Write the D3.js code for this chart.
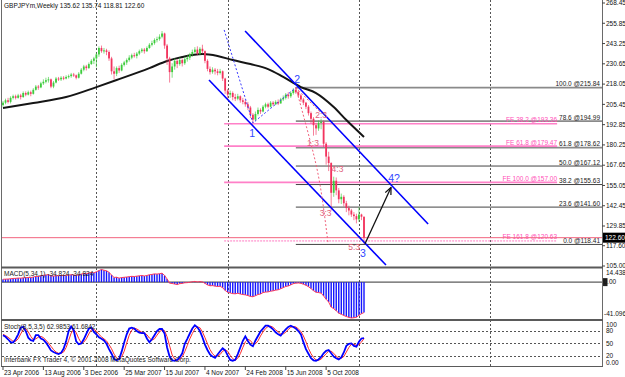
<!DOCTYPE html>
<html>
<head>
<meta charset="utf-8">
<script src="https://cdn.jsdelivr.net/npm/d3@7"></script>
<style>
  body { margin: 0; background: #fff; }
  svg text { font-family: "Liberation Sans", Arial, sans-serif; }
</style>
</head>
<body>
<svg id="chart" width="625" height="377"></svg>
<script>
// -------- weekly GBPJPY bars, week 0 = 23 Apr 2006, last = 18 Jan 2009 --------
var firstOpen = 205.0;
var closes = [206.5,208.0,207.0,209.5,210.5,209.5,211.0,210.0,212.5,211.5,
  213.0,212.0,214.5,216.5,216.0,218.5,219.5,220.5,221.0,216.5,
  219.0,221.5,221.0,222.0,221.5,222.5,223.0,224.0,223.5,222.0,
  224.5,227.0,229.0,228.0,230.5,232.5,234.0,236.5,240.5,238.5,
  239.0,238.0,234.0,226.0,224.5,228.0,226.5,230.0,231.5,233.0,
  234.5,236.0,235.5,237.0,238.5,239.5,238.5,240.5,242.5,243.5,
  245.5,246.0,247.5,249.5,242.0,234.0,225.5,229.0,232.5,230.5,
  233.0,231.0,233.5,234.5,236.5,238.0,239.5,237.0,240.0,238.5,
  232.5,227.5,225.5,227.0,226.0,225.0,226.0,221.5,214.0,211.5,
  212.5,210.0,209.0,210.5,208.0,207.0,205.5,203.5,199.0,196.0,
  199.5,202.0,201.0,204.0,205.5,204.0,206.5,205.5,207.0,206.0,
  208.5,209.5,211.5,210.5,212.5,214.5,213.0,211.0,208.5,206.5,
  204.0,200.0,196.5,192.5,190.5,194.0,194.5,181.0,173.0,169.0,
  150.5,158.0,152.0,146.5,148.0,144.0,141.0,139.5,137.0,136.0,
  134.0,137.0,135.62,122.60];
var highs = [207.5,209.0,209.5,210.5,211.5,211.5,212.0,212.0,213.5,213.5,
  214.0,214.0,215.5,217.5,217.5,219.5,221.0,222.0,222.5,221.5,
  220.0,222.5,222.5,223.0,223.0,223.5,224.0,225.0,225.0,224.0,
  225.5,228.0,230.0,230.0,231.5,233.5,235.0,237.5,241.5,242.0,
  240.5,240.0,239.0,235.0,229.0,229.0,229.5,231.0,232.5,234.0,
  236.0,237.0,237.5,238.0,239.5,240.5,240.5,241.5,243.5,245.0,
  246.5,247.5,249.0,251.0,250.0,243.0,235.0,231.0,234.0,233.5,
  234.5,234.0,235.0,236.0,237.5,239.5,241.0,241.5,241.0,242.5,
  239.0,233.5,229.0,228.5,228.0,227.5,227.5,226.5,222.0,215.0,
  214.0,213.5,212.0,212.0,211.0,209.5,208.5,207.0,204.5,200.0,
  201.0,203.5,203.0,205.0,206.5,206.5,207.5,207.5,208.0,208.5,
  209.5,211.0,212.5,213.0,213.5,215.5,215.84,214.5,212.0,209.5,
  207.0,205.0,201.0,197.5,194.0,195.5,196.5,195.5,182.0,176.0,
  169.5,160.5,160.0,153.5,150.0,149.0,145.5,142.5,140.5,138.5,
  137.5,141.6,137.5,135.74];
var lows = [204.0,205.5,206.0,206.0,208.5,208.5,209.0,208.5,209.5,210.5,
  211.0,210.5,211.5,214.0,214.5,215.5,217.5,218.5,219.0,215.5,
  215.5,218.5,220.0,220.0,220.5,221.0,221.5,222.0,222.5,221.0,
  221.5,224.0,226.0,226.5,227.5,230.0,230.5,228.5,235.0,237.5,
  237.0,236.0,232.5,224.0,221.0,223.0,225.0,226.0,229.0,230.0,
  232.0,233.5,234.5,234.0,236.0,237.5,237.0,238.0,240.0,241.5,
  242.5,244.0,245.0,246.5,240.0,230.0,219.0,222.0,227.0,228.0,
  229.5,229.0,230.0,232.0,233.0,235.0,237.0,236.0,236.0,237.0,
  231.0,226.0,224.0,224.5,224.0,223.5,224.0,220.0,212.0,209.0,
  209.5,208.0,207.5,208.0,206.5,205.5,204.0,202.0,197.0,193.9,
  195.0,198.5,199.5,200.5,203.0,203.0,203.5,204.5,205.0,205.0,
  206.0,207.5,208.5,209.0,209.5,211.5,212.0,209.5,207.0,205.0,
  202.5,198.5,193.5,186.0,186.5,189.0,190.0,179.0,168.0,164.0,
  139.5,148.0,149.0,144.0,143.5,142.0,138.5,136.5,135.5,133.5,
  131.5,132.5,133.5,118.81];

// black moving average, read at sample weeks
var maWeeks = [0,12,25,37,45,58,65,71,79,85,91,98,105,111,118,124,131,136,143];
var maValues = [203.2,206.3,210.0,216.2,220.6,228.0,232.4,234.9,236.7,235.5,
  233.0,230.5,227.4,222.5,216.2,212.5,203.8,195.7,185.2];

// MACD(5,34,1) histogram
var macdValues = [3.2,3.4,3.5,3.8,4.2,4.3,4.6,4.5,4.9,5.0,
  5.3,5.2,5.8,6.5,6.6,7.2,7.8,8.2,8.4,7.0,
  6.9,7.4,7.3,7.6,7.4,7.8,8.0,8.4,8.2,7.6,
  8.2,9.2,10.0,9.6,10.4,11.0,10.6,11.8,13.2,14.4,
  13.6,12.9,11.2,8.0,5.4,5.6,4.6,5.2,5.5,5.8,
  6.2,6.6,6.4,6.8,7.2,7.6,7.0,7.6,8.4,8.8,
  9.4,9.2,9.6,10.2,7.6,3.6,-1.2,-1.6,-2.2,-2.8,
  -1.8,-1.5,-0.8,-0.6,-0.2,0.4,0.8,0.2,0.6,0.2,
  -1.4,-3.2,-4.2,-4.0,-4.6,-5.0,-4.8,-6.4,-9.6,-11.6,
  -12.4,-13.2,-13.4,-12.8,-13.6,-14.2,-14.6,-15.4,-16.4,-16.8,
  -15.6,-14.2,-13.6,-12.0,-11.4,-11.2,-10.4,-10.0,-9.2,-8.8,
  -7.6,-6.4,-5.0,-4.4,-3.2,-1.8,-1.2,-1.0,-1.4,-2.4,
  -3.6,-5.2,-7.4,-9.8,-11.6,-12.0,-12.6,-15.8,-19.6,-22.8,
  -28.6,-30.4,-32.8,-35.6,-36.8,-38.2,-39.4,-40.4,-41.1,-40.8,
  -40.2,-38.0,-36.2,-34.8];

// Stochastic main (blue) and signal (red)
var stochMain = [70,66,60,53,52,60,72,88,90,80,
  64,58,56,70,70,62,59,52,43,33,
  29,26,24,27,37,55,80,91,82,55,
  48,50,60,73,86,89,78,72,65,61,
  57,49,36,25,12,9,12,30,52,72,
  86,88,86,80,76,75,75,62,53,60,
  70,80,85,85,74,40,18,9,8,10,
  16,26,49,61,74,86,94,89,80,65,
  47,34,23,18,15,23,31,38,33,21,
  10,8,10,24,40,56,67,56,47,43,
  57,68,79,86,93,93,89,84,77,72,
  69,77,84,90,93,90,86,80,72,53,
  36,25,14,9,8,11,17,26,32,34,
  26,18,14,11,16,28,44,49,50,44,
  42,54,62,63];
var stochSignal = [72,69,65,60,55,55,61,73,83,86,
  78,67,59,61,65,67,64,58,51,43,
  35,29,26,26,29,40,57,75,84,76,
  62,51,53,61,73,83,84,80,72,66,
  61,56,47,37,24,15,11,17,31,51,
  70,82,87,85,81,77,75,71,63,58,
  61,70,78,83,81,66,44,22,12,9,
  11,17,30,45,61,74,85,90,88,78,
  64,49,35,25,19,19,23,31,34,31,
  21,13,9,14,25,40,54,60,57,49,
  49,56,68,78,86,91,92,89,83,78,
  73,73,77,84,89,91,90,85,79,68,
  54,38,25,16,10,9,12,18,25,31,
  31,26,19,14,14,18,29,40,48,48,
  45,47,53,62];

// price scale labels
var priceTicks = [268.45,255.85,243.25,230.65,218.05,205.45,192.85,180.25,167.65,155.05,142.45,129.85,117.60,105.00];
var stochLevels = [80, 50, 20];
var stochTickLabels = ["100","80","50","20","0.00"];
var stochTickValues = [100, 80, 50, 20, 0];

// Fibonacci retracement from wave 2
var fibLevels = ["100.0","78.6","61.8","50.0","38.2","23.6","0.0"];
var fibPrices = [215.84,194.99,178.62,167.12,155.63,141.60,118.41];
var fibStartWeek = 116;

// Fibonacci expansion
var feLevels = ["38.2","61.8","100.0","161.8"];
var fePrices = [193.36,179.47,157.00,120.63];
var feWeeks = [87.6, 219.5];

// wave annotations, [week, price]
var channelLines = [
  [[81.6, 220.6], [151.7, 105.6]],
  [[95.9, 251.05], [168.4, 131.1]]
];
var waveDotLine = [[87.6, 251.7], [99, 193.9], [116, 215.84]];
var subWaveLines = [
  [[116, 215.84], [121.6, 183.3], [125.6, 155.3], [128.8, 118.7]],
  [[116, 215.84], [125.6, 200.7]]
];
var arrowPath = [[143.4, 118.8], [153.7, 153.8]];
var waveLabels = [["1", 98.7, 185.2], ["2", 116.5, 218.7], ["3", 142.6, 110.6], ["4?", 154.9, 157.2]];
var subWaveLabels = [["2:3", 126, 197], ["1:3", 122.8, 179.6], ["4:3", 132.5, 163.4], ["3:3", 127.8, 136.1], ["5:3", 139.1, 114.9]];

var lastPrice = 122.60;
var startDate = Date.UTC(2006, 3, 23);
var WEEK = 7 * 864e5;


// -------*****--------^^^^-------*****---------------*****--------
//               Scales
// -------*****--------^^^^-------*****---------------*****--------
var x = d3.scaleLinear().domain([0, 143]).range([3, 364]);
var yMain = d3.scaleLinear().domain([105, 268.45]).range([266, 3]);
var yMacd = d3.scaleLinear().domain([-41.096, 14.438]).range([318, 269.5]);
var yStoch = d3.scaleLinear().domain([0, 100]).range([364, 322.8]);

var svg = d3.select("#chart");
var defs = svg.append("defs");
defs.append("clipPath").attr("id", "mainClip")
    .append("rect").attr("x", 2).attr("y", 0).attr("width", 600).attr("height", 266.5);
defs.append("marker")
    .attr("id", "arrowHead")
    .attr("viewBox", "0 0 10 10")
    .attr("refX", 9).attr("refY", 5)
    .attr("markerWidth", 6).attr("markerHeight", 6)
    .attr("orient", "auto")
  .append("path")
    .attr("d", "M0,1 L9,5 L0,9")
    .attr("fill", "none")
    .attr("stroke", "#111")
    .attr("stroke-width", 1.6);

svg.append("rect").attr("width", 625).attr("height", 377).attr("fill", "#fff");

function weekOf(d) { return Math.round((d - startDate) / WEEK); }


// -------*****--------^^^^-------*****---------------*****--------
//               Grid and panel frames
// -------*****--------^^^^-------*****---------------*****--------
var gridWeeks = [2007, 2008, 2009, 2010].map(function(yr) {
  return weekOf(d3.utcSunday.ceil(new Date(Date.UTC(yr, 0, 1))).getTime());
});
svg.selectAll("line.vgrid").data(gridWeeks).enter().append("line")
    .attr("class", "vgrid")
    .attr("x1", function(d) { return Math.round(x(d)) + 0.5; })
    .attr("x2", function(d) { return Math.round(x(d)) + 0.5; })
    .attr("y1", 0).attr("y2", 366)
    .style("stroke", "#555")
    .style("stroke-dasharray", "2,2");

svg.selectAll("line.sgrid").data(stochLevels).enter().append("line")
    .attr("class", "sgrid")
    .attr("x1", 2).attr("x2", 602)
    .attr("y1", function(d) { return Math.round(yStoch(d)) + 0.5; })
    .attr("y2", function(d) { return Math.round(yStoch(d)) + 0.5; })
    .style("stroke", "#555")
    .style("stroke-dasharray", "2,2");

// panel borders
[[1.5, 0, 1.5, 367], [602.5, 0, 602.5, 367]].forEach(function(l) {
  svg.append("line").attr("x1", l[0]).attr("y1", l[1]).attr("x2", l[2]).attr("y2", l[3])
      .style("stroke", "#6a6a6a").style("stroke-width", 1);
});
[267.5, 320].forEach(function(yy) {
  svg.append("line").attr("x1", 1).attr("x2", 603).attr("y1", yy).attr("y2", yy)
      .style("stroke", "#5a5a5a").style("stroke-width", 2);
});
svg.append("line").attr("x1", 1).attr("x2", 603).attr("y1", 366.5).attr("y2", 366.5)
    .style("stroke", "#5a5a5a").style("stroke-width", 1);


// -------*****--------^^^^-------*****---------------*****--------
//               Main panel
// -------*****--------^^^^-------*****---------------*****--------
var main_g = svg.append("g").attr("clip-path", "url(#mainClip)");

// fibo retracement lines
main_g.selectAll("line.fib").data(fibPrices).enter().append("line")
    .attr("class", "fib")
    .attr("x1", x(fibStartWeek)).attr("x2", 602)
    .attr("y1", function(d) { return yMain(d); })
    .attr("y2", function(d) { return yMain(d); })
    .style("stroke", function(d, i) { return i < 3 ? "#8a8a8a" : "#444"; })
    .style("stroke-width", function(d, i) { return i < 3 ? 1.8 : 1; });

main_g.selectAll("text.fib").data(fibPrices).enter().append("text")
    .attr("class", "fib")
    .attr("x", 600)
    .attr("y", function(d) { return yMain(d) - 1.5; })
    .attr("text-anchor", "end")
    .style("font-size", "6.5px")
    .style("fill", "#222")
    .text(function(d, i) { return fibLevels[i] + " @" + d.toFixed(2); });

// fibo expansion lines
main_g.selectAll("line.fe").data(fePrices).enter().append("line")
    .attr("class", "fe")
    .attr("x1", x(feWeeks[0])).attr("x2", x(feWeeks[1]))
    .attr("y1", function(d) { return yMain(d); })
    .attr("y2", function(d) { return yMain(d); })
    .style("stroke", function(d, i) { return i == 3 ? "#ffb3dc" : "#ff80c8"; })
    .style("stroke-width", 1.6)
    .style("stroke-dasharray", function(d, i) { return i == 3 ? "2,1" : null; });

main_g.selectAll("text.fe").data(fePrices).enter().append("text")
    .attr("class", "fe")
    .attr("x", x(feWeeks[1]))
    .attr("y", function(d) { return yMain(d) - 1.5; })
    .attr("text-anchor", "end")
    .style("font-size", "6.5px")
    .style("fill", "#ff4fb8")
    .text(function(d, i) { return "FE " + feLevels[i] + " @" + d.toFixed(2); });

// price line
main_g.append("line")
    .attr("x1", 2).attr("x2", 602)
    .attr("y1", yMain(lastPrice)).attr("y2", yMain(lastPrice))
    .style("stroke", "#f2647e").style("stroke-width", 1);

// moving average
var lineMain = d3.line()
    .x(function(d) { return x(d[0]); })
    .y(function(d) { return yMain(d[1]); });

main_g.append("path")
    .datum(maWeeks.map(function(w, i) { return [w, maValues[i]]; }))
    .attr("d", lineMain.curve(d3.curveMonotoneX))
    .style("fill", "none").style("stroke", "#151515").style("stroke-width", 2);
lineMain.curve(d3.curveLinear);

// candles
var candles = closes.map(function(c, i) {
  return { i: i, open: i === 0 ? firstOpen : closes[i - 1], high: highs[i], low: lows[i], close: c };
});
var bullColor = "#3ccc3c", bearColor = "#f2345e";

main_g.selectAll("line.wick").data(candles).enter().append("line")
    .attr("class", "wick")
    .attr("x1", function(d) { return x(d.i); })
    .attr("x2", function(d) { return x(d.i); })
    .attr("y1", function(d) { return yMain(d.high); })
    .attr("y2", function(d) { return yMain(d.low); })
    .style("stroke", function(d) { return d.close >= d.open ? bullColor : bearColor; })
    .style("stroke-width", 0.9)
    .style("opacity", 0.7);

main_g.selectAll("rect.body").data(candles).enter().append("rect")
    .attr("class", "body")
    .attr("x", function(d) { return x(d.i) - 0.9; })
    .attr("width", 1.8)
    .attr("y", function(d) { return yMain(Math.max(d.open, d.close)); })
    .attr("height", function(d) { return Math.max(1, Math.abs(yMain(d.open) - yMain(d.close))); })
    .style("fill", function(d) { return d.close >= d.open ? bullColor : bearColor; });

// wave lines
main_g.selectAll("path.channel").data(channelLines).enter().append("path")
    .attr("class", "channel")
    .attr("d", lineMain)
    .style("fill", "none").style("stroke", "#0000ff").style("stroke-width", 1.6);

main_g.append("path")
    .datum(waveDotLine)
    .attr("d", lineMain)
    .style("fill", "none").style("stroke", "#3a3aff").style("stroke-width", 1)
    .style("stroke-dasharray", "2,2");

main_g.selectAll("path.sub").data(subWaveLines).enter().append("path")
    .attr("class", "sub")
    .attr("d", d3.line().x(function(d) { return x(d[0]); }).y(function(d) { return yMain(d[1]); }).curve(d3.curveNatural))
    .style("fill", "none").style("stroke", "#f0607a").style("stroke-width", 1)
    .style("stroke-dasharray", "2,2");

main_g.append("path")
    .datum(arrowPath)
    .attr("d", lineMain)
    .attr("marker-end", "url(#arrowHead)")
    .style("fill", "none").style("stroke", "#111").style("stroke-width", 1.3);

main_g.selectAll("text.wave").data(waveLabels).enter().append("text")
    .attr("class", "wave")
    .attr("x", function(d) { return x(d[1]); })
    .attr("y", function(d) { return yMain(d[2]); })
    .attr("text-anchor", "middle")
    .style("font-size", "10.5px")
    .style("fill", "#3048ff")
    .text(function(d) { return d[0]; });

main_g.selectAll("text.subwave").data(subWaveLabels).enter().append("text")
    .attr("class", "subwave")
    .attr("x", function(d) { return x(d[1]); })
    .attr("y", function(d) { return yMain(d[2]); })
    .attr("text-anchor", "middle")
    .style("font-size", "8.5px")
    .style("fill", "#e0607a")
    .text(function(d) { return d[0]; });

// title
svg.append("text")
    .attr("x", 4).attr("y", 8)
    .style("font-size", "6.5px").style("fill", "#111")
    .text("GBPJPYm,Weekly  135.62 135.74 118.81 122.60");

// right price axis
var priceAxis = svg.append("g");
priceAxis.selectAll("line").data(priceTicks).enter().append("line")
    .attr("x1", 602).attr("x2", 605)
    .attr("y1", function(d) { return yMain(d); })
    .attr("y2", function(d) { return yMain(d); })
    .style("stroke", "#444");
priceAxis.selectAll("text").data(priceTicks).enter().append("text")
    .attr("x", 606)
    .attr("y", function(d) { return yMain(d) + 2.3; })
    .style("font-size", "6.5px").style("fill", "#111")
    .text(function(d) { return d.toFixed(2); });

svg.append("rect")
    .attr("x", 603).attr("y", yMain(lastPrice) - 5).attr("width", 22).attr("height", 10)
    .style("fill", "#000");
svg.append("text")
    .attr("x", 605).attr("y", yMain(lastPrice) + 2.5)
    .style("font-size", "6.5px").style("fill", "#fff")
    .text(lastPrice.toFixed(2));


// -------*****--------^^^^-------*****---------------*****--------
//               MACD panel
// -------*****--------^^^^-------*****---------------*****--------
var macd_g = svg.append("g");
macd_g.append("line")
    .attr("x1", 2).attr("x2", 602)
    .attr("y1", yMacd(0)).attr("y2", yMacd(0))
    .style("stroke", "#333").style("stroke-width", 1);

macd_g.selectAll("rect").data(macdValues).enter().append("rect")
    .attr("x", function(d, i) { return x(i) - 0.7; })
    .attr("width", 1.4)
    .attr("y", function(d) { return Math.min(yMacd(0), yMacd(d)); })
    .attr("height", function(d) { return Math.abs(yMacd(d) - yMacd(0)); })
    .style("fill", "#1414ff");

macd_g.append("path")
    .datum(macdValues)
    .attr("d", d3.line().x(function(d, i) { return x(i); }).y(function(d) { return yMacd(d); }))
    .style("fill", "none").style("stroke", "#ff3a5a").style("stroke-width", 1);

macd_g.append("text")
    .attr("x", 4).attr("y", 276)
    .style("font-size", "6.5px").style("fill", "#222")
    .text("MACD(5,34,1) -34.824 -34.824");

macd_g.append("text").attr("x", 606).attr("y", 275)
    .style("font-size", "6.5px").style("fill", "#111").text("14.438");
macd_g.append("rect").attr("x", 603).attr("y", yMacd(0) - 4).attr("width", 4.5).attr("height", 8)
    .style("fill", "#222");
macd_g.append("text").attr("x", 603.5).attr("y", yMacd(0) + 2.3)
    .style("font-size", "6.5px").style("fill", "#111").text("0.00");
macd_g.append("text").attr("x", 604).attr("y", 316)
    .style("font-size", "6.5px").style("fill", "#111").text("-41.096");


// -------*****--------^^^^-------*****---------------*****--------
//               Stochastic panel
// -------*****--------^^^^-------*****---------------*****--------
var stoch_g = svg.append("g");
var stochLine = d3.line().x(function(d, i) { return x(i); }).y(function(d) { return yStoch(d); });

stoch_g.append("path").datum(stochSignal).attr("d", stochLine)
    .style("fill", "none").style("stroke", "#ff2a2a").style("stroke-width", 1);
stoch_g.append("path").datum(stochMain).attr("d", stochLine)
    .style("fill", "none").style("stroke", "#0000ff").style("stroke-width", 1.8);

stoch_g.append("text")
    .attr("x", 4).attr("y", 329)
    .style("font-size", "6.5px").style("fill", "#222")
    .text("Stoch(8,5,3,5) 62.9853 61.6842");
stoch_g.append("text")
    .attr("x", 4).attr("y", 362)
    .style("font-size", "6.5px").style("fill", "#222")
    .text("Interbank FX Trader 4, \u00a9 2001-2008 MetaQuotes Software Corp.");

stoch_g.selectAll("text.stk").data(stochTickValues).enter().append("text")
    .attr("class", "stk")
    .attr("x", 606)
    .attr("y", function(d) { return Math.min(365, Math.max(327, yStoch(d) + 2.3)); })
    .style("font-size", "6.5px").style("fill", "#111")
    .text(function(d, i) { return stochTickLabels[i]; });


// -------*****--------^^^^-------*****---------------*****--------
//               Date axis
// -------*****--------^^^^-------*****---------------*****--------
var dateWeeks = d3.range(0, 129, 16);
var fmt = d3.utcFormat("%-d %b %Y");
svg.selectAll("line.dtick").data(dateWeeks).enter().append("line")
    .attr("class", "dtick")
    .attr("x1", function(d) { return x(d); }).attr("x2", function(d) { return x(d); })
    .attr("y1", 366).attr("y2", 370)
    .style("stroke", "#444");
svg.selectAll("text.date").data(dateWeeks).enter().append("text")
    .attr("class", "date")
    .attr("x", function(d) { return x(d) + 1; })
    .attr("y", 375)
    .style("font-size", "6.5px").style("fill", "#111")
    .text(function(d) { return fmt(new Date(startDate + d * WEEK)); });
</script>
</body>
</html>
